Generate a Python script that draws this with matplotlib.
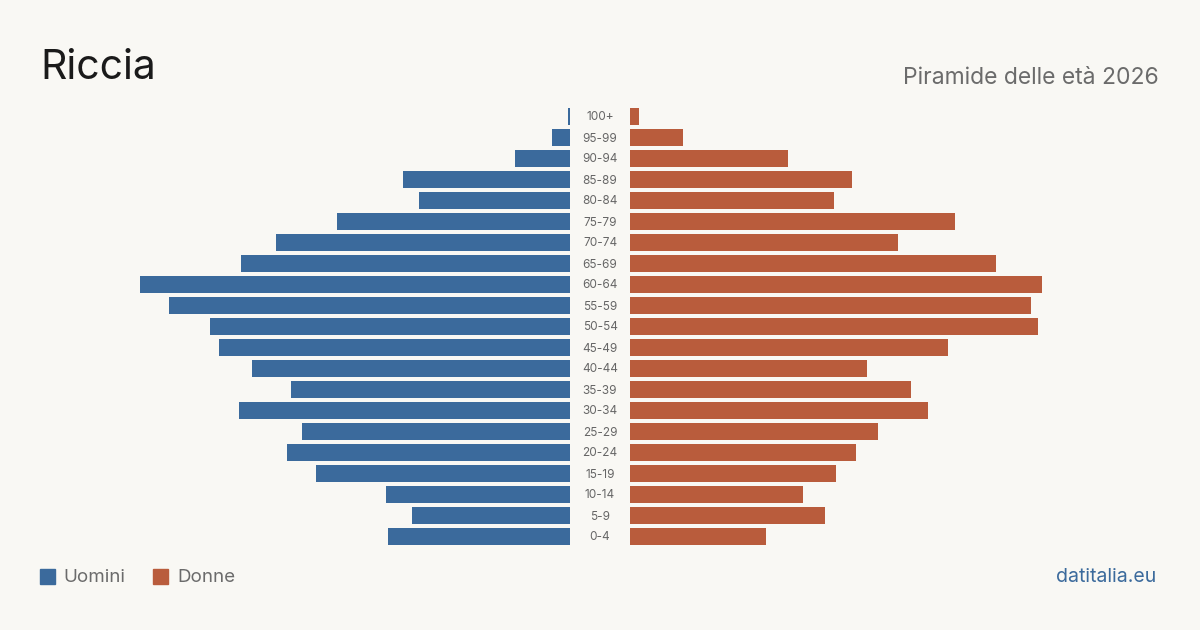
import matplotlib
matplotlib.use('Agg')
import matplotlib.pyplot as plt
from matplotlib.patches import Rectangle

plt.rcParams['font.family'] = ['Inter', 'DejaVu Sans']

age_groups = ['100+', '95-99', '90-94', '85-89', '80-84', '75-79', '70-74', '65-69',
              '60-64', '55-59', '50-54', '45-49', '40-44', '35-39', '30-34', '25-29',
              '20-24', '15-19', '10-14', '5-9', '0-4']
uomini = [2, 18, 55, 167, 151, 233, 294, 329, 430, 401, 360, 351, 318, 279, 331, 268,
          283, 254, 184, 158, 182]
donne = [9, 53, 158, 222, 204, 325, 268, 366, 412, 401, 408, 318, 237, 281, 298, 248,
         226, 206, 173, 195, 136]

bg = '#f9f8f4'
blue = '#3b6a9c'
orange = '#b95c3c'

W, H = 1200, 630
fig = plt.figure(figsize=(12, 6.3), dpi=100, facecolor=bg)

top, bottom = 106, 547
ax_l = fig.add_axes([40 / W, 1 - bottom / H, 530 / W, (bottom - top) / H])
ax_r = fig.add_axes([630 / W, 1 - bottom / H, 530 / W, (bottom - top) / H])

ypos = list(range(len(age_groups)))[::-1]
ax_l.barh(ypos, uomini, height=0.8, color=blue)
ax_r.barh(ypos, donne, height=0.8, color=orange)
ax_l.set_xlim(530, 0)
ax_r.set_xlim(0, 530)
for ax in (ax_l, ax_r):
    ax.set_ylim(-0.5, len(age_groups) - 0.5)
    ax.axis('off')
    ax.set_facecolor('none')

for y, lab in zip(ypos, age_groups):
    fig.text(600 / W, 1 - (117.5 + (20 - y) * 21) / H, lab, ha='center', va='center',
             fontsize=8.5, color='#666666')

fig.text(40 / W, 1 - 68 / H, 'Riccia', fontsize=29.5, color='#1a1a1a', va='center')
fig.text(1159 / W, 1 - 78.5 / H, 'Piramide delle età 2026', fontsize=16.5, color='#6b6b6b',
         ha='right', va='center')

fig.patches.append(Rectangle((40 / W, 1 - 584 / H), 15 / W, 15 / H, transform=fig.transFigure,
                             color=blue))
fig.text(63 / W, 1 - 578 / H, 'Uomini', fontsize=13.5, color='#6b6b6b', va='center')
fig.patches.append(Rectangle((153 / W, 1 - 584 / H), 15 / W, 15 / H, transform=fig.transFigure,
                             color=orange))
fig.text(177 / W, 1 - 578 / H, 'Donne', fontsize=13.5, color='#6b6b6b', va='center')

fig.text(1156 / W, 1 - 577.5 / H, 'datitalia.eu', fontsize=14, color=blue, ha='right', va='center')

fig.savefig('out.png', dpi=100, facecolor=bg)
